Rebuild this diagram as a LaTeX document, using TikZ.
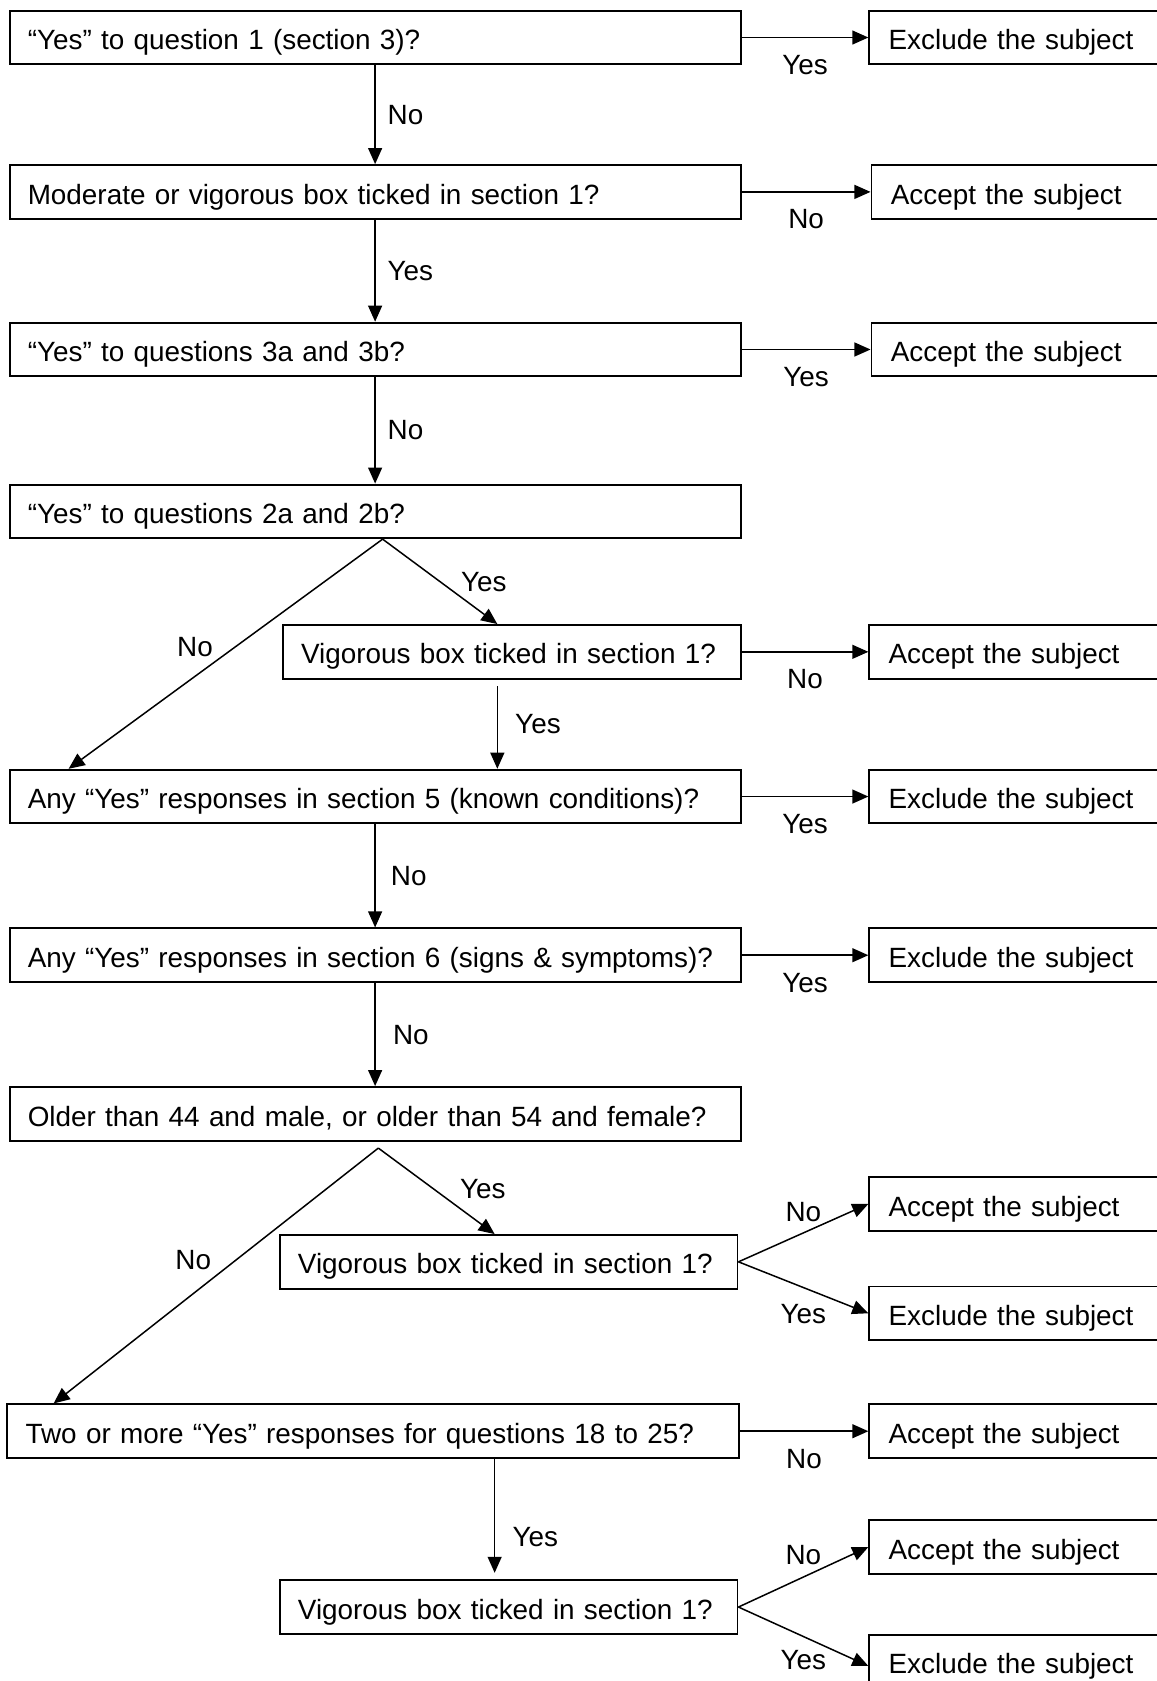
\documentclass[tikz,border=0pt]{standalone}
\usepackage{fontspec}
\setmainfont{Liberation Sans}
\usetikzlibrary{arrows.meta}
\tikzset{
	qwide/.style={draw,line width=0.9pt,anchor=west,minimum height=25pt,inner xsep=8.5pt,text width=324pt,text height=11.3pt,text depth=0pt,align=left},
	qshort/.style={qwide,text width=196.5pt},
	res/.style={draw,line width=0.9pt,anchor=west,minimum height=25pt,inner xsep=9pt,text width=150pt,text height=11.3pt,text depth=0pt,align=left},
	go/.style={line width=0.7pt,-{Triangle[length=7.5pt,width=6.5pt]}},
	lab/.style={inner sep=1pt}
}
\begin{document}
\begin{tikzpicture}[x=0.5pt,y=-0.5pt,font=\fontsize{13}{15}\selectfont]
	\useasboundingbox (0,0) rectangle (1079,1568);
	\node[qwide] (q1) at (8,35) {“Yes” to question 1 (section 3)?};
	\node[qwide] (q2) at (8,179) {Moderate or vigorous box ticked in section 1?};
	\node[qwide] (q3) at (8,326) {“Yes” to questions 3a and 3b?};
	\node[qwide] (q4) at (8,477) {“Yes” to questions 2a and 2b?};
	\node[qshort] (q5) at (263,608) {Vigorous box ticked in section 1?};
	\node[qwide] (q6) at (8,743) {Any “Yes” responses in section 5 (known conditions)?};
	\node[qwide] (q7) at (8,891) {Any “Yes” responses in section 6 (signs \& symptoms)?};
	\node[qwide] (q8) at (8,1039) {Older than 44 and male, or older than 54 and female?};
	\node[qshort] (q9) at (260,1177) {Vigorous box ticked in section 1?};
	\node[qwide] (q10) at (6,1335) {Two or more “Yes” responses for questions 18 to 25?};
	\node[qshort] (q11) at (260,1499) {Vigorous box ticked in section 1?};
	\node[res] (r1) at (810,35) {Exclude the subject};
	\node[res] (r2) at (812,179) {Accept the subject};
	\node[res] (r3) at (812,326) {Accept the subject};
	\node[res] (r5) at (810,608) {Accept the subject};
	\node[res] (r6) at (810,743) {Exclude the subject};
	\node[res] (r7) at (810,891) {Exclude the subject};
	\node[res] (r9a) at (810,1123) {Accept the subject};
	\node[res] (r9b) at (810,1225) {Exclude the subject};
	\node[res] (r10) at (810,1335) {Accept the subject};
	\node[res] (r11a) at (810,1443) {Accept the subject};
	\node[res] (r11b) at (810,1550) {Exclude the subject};
	\draw[go] (q1.east) -- (r1.west) node[lab,midway,below=7pt] {Yes};
	\draw[go] (q2.east) -- (r2.west) node[lab,midway,below=7pt] {No};
	\draw[go] (q3.east) -- (r3.west) node[lab,midway,below=7pt] {Yes};
	\draw[go] (q5.east) -- (r5.west) node[lab,midway,below=7pt] {No};
	\draw[go] (q6.east) -- (r6.west) node[lab,midway,below=7pt] {Yes};
	\draw[go] (q7.east) -- (r7.west) node[lab,midway,below=7pt] {Yes};
	\draw[go] (q10.east) -- (r10.west) node[lab,midway,below=7pt] {No};
	\draw[go] (q1.south) -- (q2.north) node[lab,midway,right=4.5pt] {No};
	\draw[go] (q2.south) -- (q3.north) node[lab,midway,right=4.5pt] {Yes};
	\draw[go] (q3.south) -- (q4.north) node[lab,midway,right=4.5pt] {No};
	\draw[go] (q6.south) -- (q7.north) node[lab,midway,right=6pt] {No};
	\draw[go] (q7.south) -- (q8.north) node[lab,midway,right=7pt] {No};
	\draw[go,shorten <=3pt] ([xshift=-6.75pt]q5.south) -- ([xshift=-6.75pt]q5.south |- q6.north) node[lab,midway,right=7pt] {Yes};
	\draw[go,shorten >=3pt] ([xshift=-6.5pt]q11.north |- q10.south) -- ([xshift=-6.5pt]q11.north) node[lab,pos=0.65,right=7pt] {Yes};
	\draw[go] ([xshift=3.5pt]q4.south) -- ([xshift=-6.75pt]q5.north) node[lab,midway,right=8.5pt] {Yes};
	\draw[go] ([xshift=3.5pt]q4.south) -- ([xshift=28pt]q6.north west) node[lab,pos=0.47,left=9pt] {No};
	\draw[go] ([xshift=1.5pt,yshift=-3pt]q8.south) -- ([xshift=-6.5pt]q9.north) node[lab,pos=0.475,right=11pt] {Yes};
	\draw[go] ([xshift=1.5pt,yshift=-3pt]q8.south) -- ([xshift=22pt]q10.north west) node[lab,pos=0.44,left=10pt] {No};
	\draw[go] (q9.east) -- (r9a.west) node[lab,midway,above=4pt] {No};
	\draw[go] (q9.east) -- (r9b.west) node[lab,midway,below=6.5pt] {Yes};
	\draw[go] (q11.east) -- (r11a.west) node[lab,midway,above=4.5pt] {No};
	\draw[go] (q11.east) -- ([yshift=-2pt]r11b.west) node[lab,midway,below=5pt] {Yes};
\end{tikzpicture}
\end{document}
